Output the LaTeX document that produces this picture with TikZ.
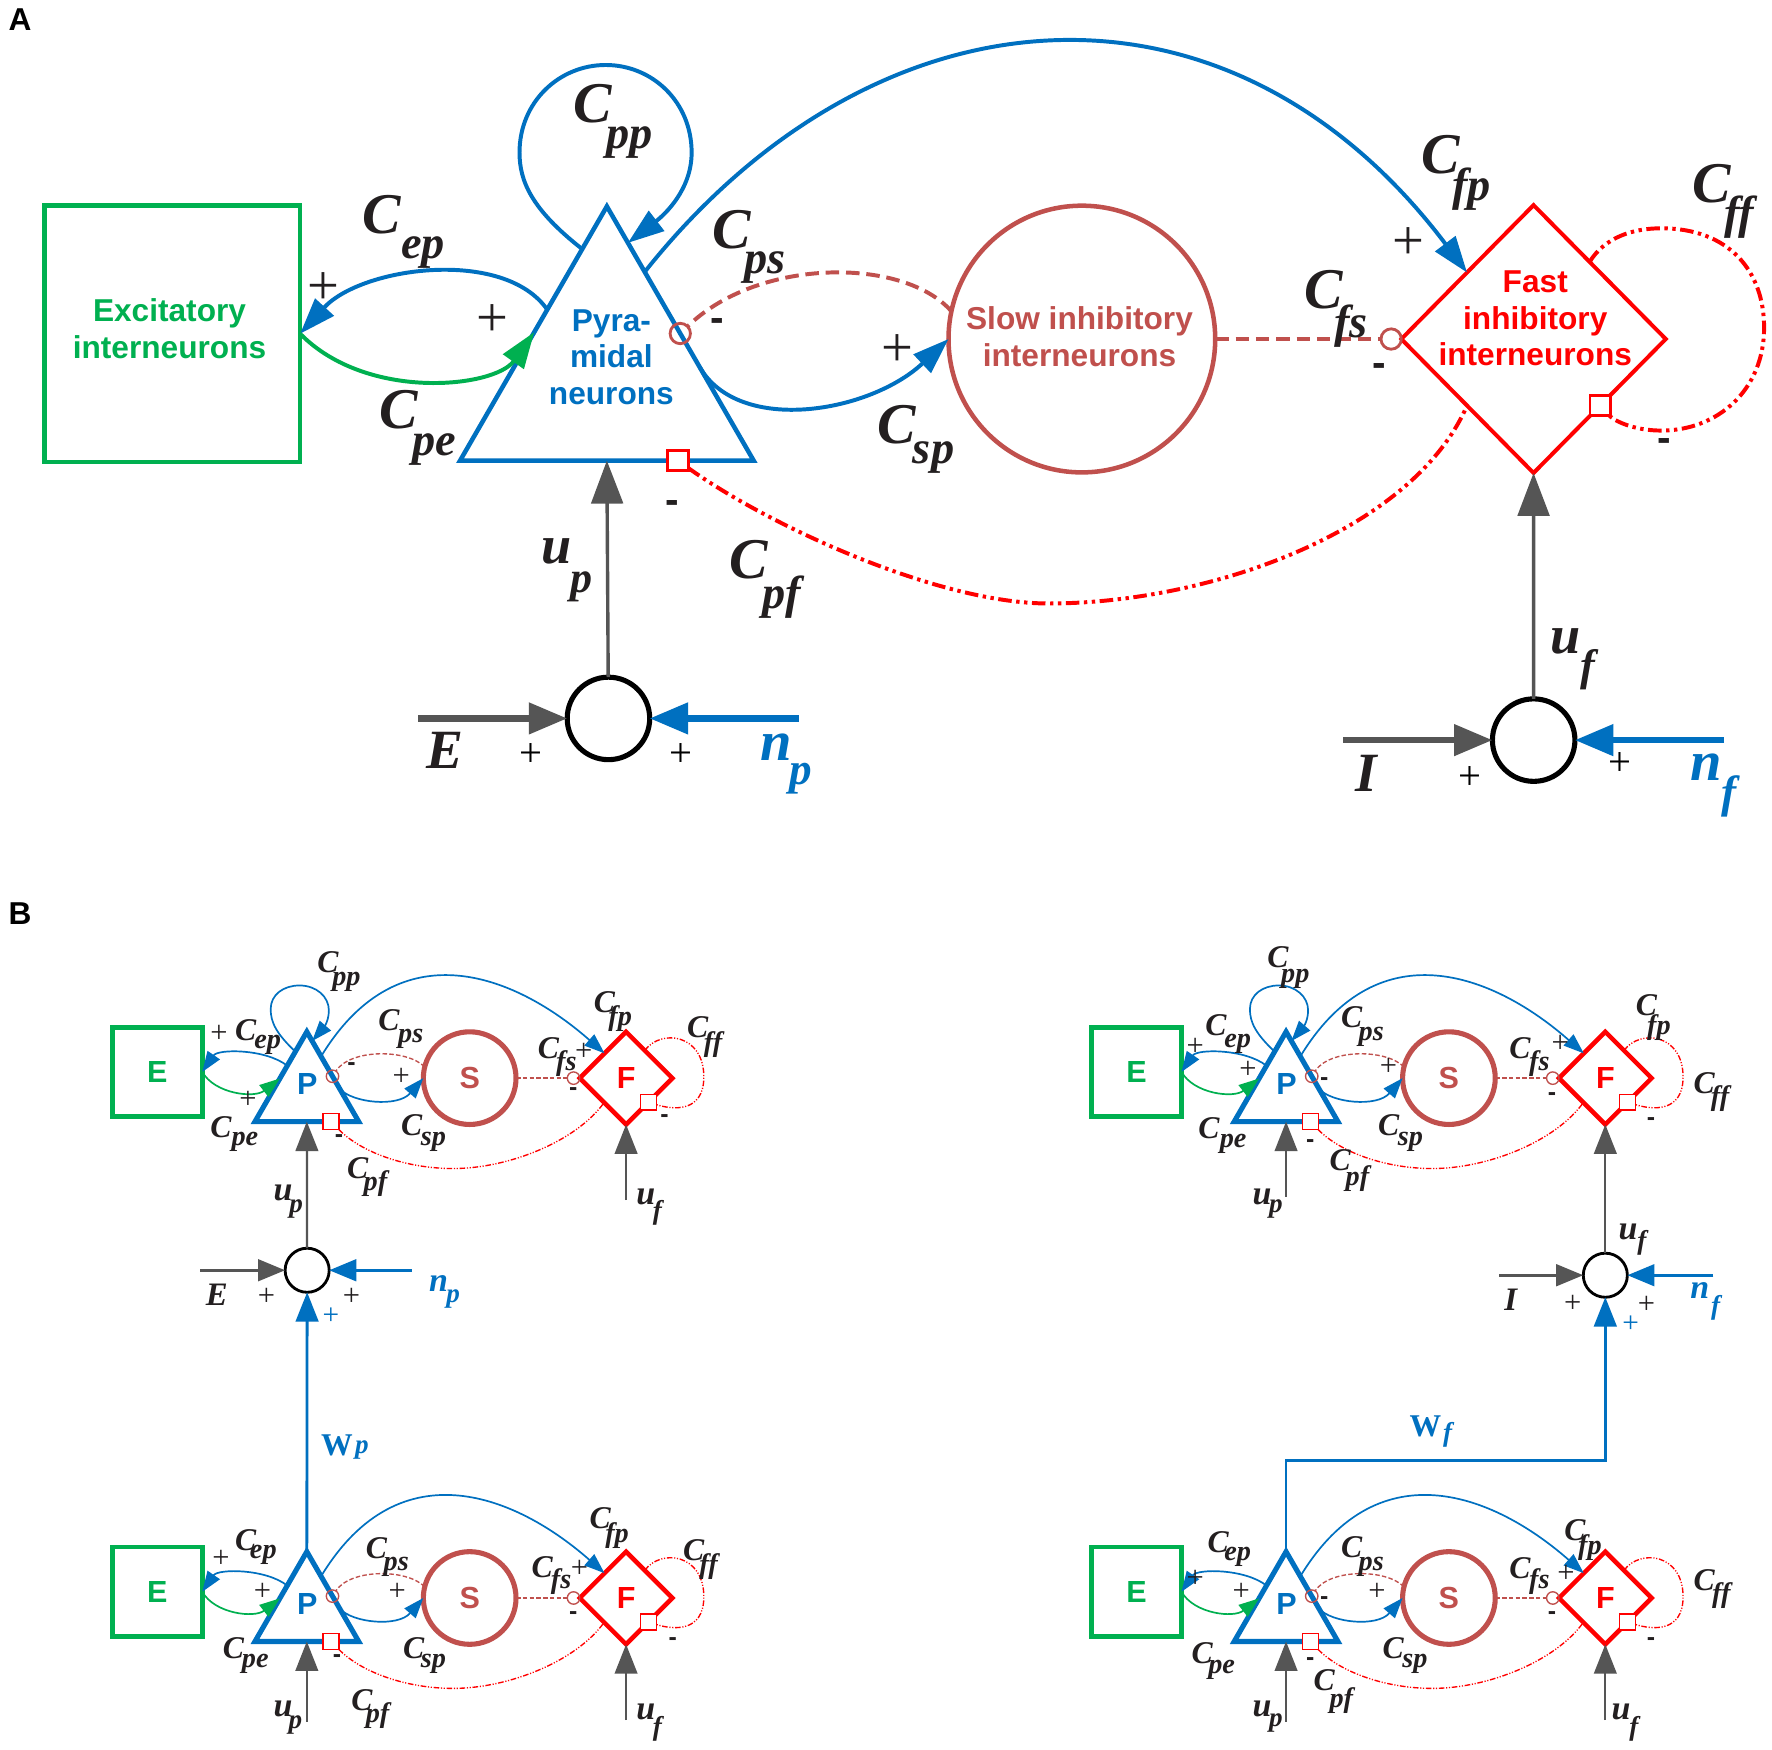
\documentclass[tikz,border=0pt]{standalone}
\usepackage{fontspec}
\setmainfont{Liberation Serif}
\newfontfamily\sfb{Liberation Sans}
\usetikzlibrary{shapes.geometric,arrows.meta}
\definecolor{cblue}{RGB}{0,112,192}
\definecolor{cgreen}{RGB}{0,176,80}
\definecolor{cbrown}{RGB}{192,80,77}
\definecolor{cred}{RGB}{255,0,0}
\definecolor{cgray}{RGB}{85,85,85}
\definecolor{ctext}{RGB}{35,31,32}
\newcommand\fsz[1]{\fontsize{#1}{#1}\selectfont}
\newcounter{lbn}
\newcommand\Tx[4]{\stepcounter{lbn}\node[#1] (lb\arabic{lbn}) at (#2,#3) {#4};}
\newcommand\CLA[5]{\Tx{CA}{#1}{#2}{C}\Tx{SA}{#3}{#4}{#5}}
\newcommand\CLB[5]{\Tx{CB}{#1}{#2}{C}\Tx{SB}{#3}{#4}{#5}}
\newcommand\PL[2]{\Tx{plB}{#1}{#2}{+}}
\newcommand\MN[2]{\Tx{mnB}{#1}{#2}{-}}
\tikzset{
 lab/.style={inner sep=0pt,outer sep=0pt,text=ctext},
 ttl/.style={lab,text=black,font=\sfb\bfseries\fsz{28}},
 CA/.style={lab,font=\bfseries\itshape\fsz{51}},
 SA/.style={lab,font=\bfseries\itshape\fsz{41}},
 CB/.style={lab,font=\bfseries\itshape\fsz{28}},
 SB/.style={lab,font=\bfseries\itshape\fsz{25}},
 plA/.style={lab,font=\fsz{50}},
 plS/.style={lab,text=black,font=\fsz{36}},
 plB/.style={lab,font=\fsz{27}},
 mnA/.style={lab,font=\sfb\bfseries\fsz{36}},
 mnB/.style={lab,font=\sfb\bfseries\fsz{22}},
 uA/.style={lab,font=\bfseries\itshape\fsz{48}},
 usA/.style={lab,font=\bfseries\itshape\fsz{39}},
 uB/.style={lab,font=\bfseries\itshape\fsz{30}},
 usB/.style={lab,font=\bfseries\itshape\fsz{24}},
 vA/.style={lab,font=\bfseries\itshape\fsz{49}},
 vB/.style={lab,font=\bfseries\itshape\fsz{29}},
 nA/.style={lab,text=cblue,font=\bfseries\itshape\fsz{50}},
 nsA/.style={lab,text=cblue,font=\bfseries\itshape\fsz{40}},
 nB/.style={lab,text=cblue,font=\bfseries\itshape\fsz{30}},
 nsB/.style={lab,text=cblue,font=\bfseries\itshape\fsz{24}},
 wB/.style={lab,text=cblue,font=\bfseries\fsz{28}},
 wsB/.style={lab,text=cblue,font=\bfseries\itshape\fsz{24}},
 bplB/.style={lab,text=cblue,font=\fsz{26}},
 txt/.style={inner sep=0pt,align=center,font=\sfb\bfseries\fontsize{28}{32.4}\selectfont},
 shp/.style={inner sep=0pt,outer sep=0pt},
 tipA/.style={-{Triangle[length=32pt,width=22pt]}},
 tipIn/.style={-{Triangle[length=34pt,width=27pt]}},
 tipUp/.style={-{Triangle[length=38pt,width=28pt]}},
 tipB/.style={-{Triangle[length=18pt,width=13pt]}},
 tipInB/.style={-{Triangle[length=24pt,width=19pt]}},
 tipUpB/.style={-{Triangle[length=26pt,width=20pt]}},
 bA/.style={draw=cblue,line width=3.5pt},
 gA/.style={draw=cgreen,line width=3.5pt},
 brA/.style={draw=cbrown,line width=3.5pt,dash pattern=on 12pt off 6pt},
 rA/.style={draw=cred,line width=3.5pt,dash pattern=on 12pt off 4pt on 3pt off 4pt on 3pt off 4pt},
 gyA/.style={draw=cgray,line width=3pt},
 gyB/.style={draw=cgray,line width=5.5pt},
 bB/.style={draw=cblue,line width=5.5pt},
 sumA/.style={shp,circle,draw=black,line width=4.5pt,minimum size=73pt},
 mkcA/.style={shp,circle,draw=cbrown,line width=2.5pt,minimum size=18pt},
 mksA/.style={shp,rectangle,draw=cred,fill=white,line width=2.5pt,minimum size=18pt},
 bC/.style={draw=cblue,line width=1.5pt},
 gC/.style={draw=cgreen,line width=1.5pt},
 brC/.style={draw=cbrown,line width=1.2pt,dash pattern=on 4pt off 2pt},
 rC/.style={draw=cred,line width=1.2pt,dash pattern=on 5pt off 1.5pt on 1pt off 1.5pt on 1pt off 1.5pt},
 gyC/.style={draw=cgray,line width=2pt},
 gyD/.style={draw=cgray,line width=3pt},
 bD/.style={draw=cblue,line width=3pt},
 bW/.style={draw=cblue,line width=2.5pt},
 sumB/.style={shp,circle,draw=black,line width=2.5pt,minimum size=39pt},
 mkcB/.style={shp,circle,draw=cbrown,line width=1.2pt,minimum size=11pt},
 mksB/.style={shp,rectangle,draw=cred,fill=white,line width=1.2pt,minimum size=14pt},
 mEbox/.style={shp,rectangle,draw=cgreen,line width=4pt,minimum width=79.6pt,minimum height=79pt,text=cgreen,font=\sfb\bfseries\fsz{27}},
 mPtri/.style={shp,regular polygon,regular polygon sides=3,draw=cblue,line width=4.5pt,minimum size=106pt},
 mScirc/.style={shp,circle,draw=cbrown,line width=4.5pt,minimum size=82pt,text=cbrown,font=\sfb\bfseries\fsz{27}},
 mFdia/.style={shp,diamond,draw=cred,line width=4pt,minimum width=82pt,minimum height=82pt},
 mlet/.style={inner sep=0pt,font=\sfb\bfseries\fsz{27}}
}
\newcommand\mininet[4]{%
\begin{scope}[shift={(#2,#3)}]
\node[mEbox] (#1E) at (139.2,948.5) {E};
\node[mPtri] (#1P) at (271.5,966) {};
\node[mlet,text=cblue] (#1Pt) at (272,959) {P};
\node[mScirc] (#1S) at (415.6,954) {S};
\node[mFdia] (#1F) at (554,954) {};
\node[mlet,text=cred] (#1Ft) at (554,954) {F};
\node[mkcB] (#1c1) at (#1P.31) {};
\node[mkcB] (#1c2) at (507.5,954) {};
\node[mksB] (#1q1) at (#1P.-51.6) {};
\node[mksB] (#1q2) at (#1F.-47) {};
\draw[bC,tipB] (#1P.127) .. controls (235,928) and (193,928) .. (#1E.east);
\draw[gC,tipB] (#1E.east) .. controls (190,968) and (225,972) .. (#1P.154.6);
\draw[brC] (#1S.166) .. controls (360,928) and (310,928) .. (#1c1);
\draw[bC,tipB] (#1P.5.6) .. controls (312,976) and (352,980) .. (#1S.west);
\draw[bC,tipB] (#1P.68.5) .. controls (355,818) and (460,866) .. (#1F.131.4);
\draw[brC] (#1S.east) -- (#1c2);
\draw[rC] (#1F.56) .. controls (585,910) and (622.8,915) .. (622.8,952.9) .. controls (622.8,985) and (595,982) .. (#1q2);
\draw[rC] (#1q1) .. controls (320,1020) and (360,1034) .. (400.9,1034) .. controls (450,1034) and (510,1010) .. (#1F.-132);
\ifnum#4=1
\draw[bC,tipB] (#1P.106) .. controls (245,915) and (239.5,905) .. (239.5,893) .. controls (239.5,880) and (251,872) .. (265,872) .. controls (280,872) and (291,882) .. (291,894) .. controls (291,905) and (285,911) .. (#1P.84.6);
\fi
\end{scope}}
\begin{document}
\begin{tikzpicture}[x=1pt,y=-1pt]
\useasboundingbox (0,0) rectangle (1568,1548);
\fill[white] (0,0) rectangle (1568,1548);
\Tx{ttl}{17.8}{17.7}{A}
\Tx{ttl}{17.8}{808}{B}
% ---------------- panel A shapes
\node[shp,rectangle,draw=cgreen,line width=4pt,minimum width=226pt,minimum height=226.6pt] (E) at (152.6,295.3) {};
\node[txt,text=cgreen] (Et) at (150,290.6) {Excitatory\\interneurons};
\node[shp,regular polygon,regular polygon sides=3,draw=cblue,line width=4pt,minimum size=300pt] (P) at (537,332.6) {};
\node[txt,text=cblue] (Pt) at (541,316) {Pyra-\\midal\\neurons};
\node[shp,circle,draw=cbrown,line width=4pt,minimum size=236pt] (S) at (957.3,300) {};
\node[txt,text=cbrown] (St) at (955.2,298) {Slow inhibitory\\interneurons};
\node[shp,diamond,draw=cred,line width=3.5pt,minimum width=234pt,minimum height=237pt] (F) at (1357,300) {};
\node[txt,text=cred] (Ft) at (1358.5,281.7) {Fast\\inhibitory\\interneurons};
\node[mkcA] (Amc1) at (P.30.1) {};
\node[mkcA] (Amc2) at (1231,300) {};
\node[mksA] (Ams1) at (P.-50.2) {};
\node[mksA] (Ams2) at (F.-45.6) {};
% connectors A
\draw[bA,tipA] (P.101) .. controls (470,185) and (459.7,160) .. (459.7,135) .. controls (459.7,90) and (495,57.5) .. (536,57.5) .. controls (577,57.5) and (612,90) .. (612,135) .. controls (612,168) and (588,190) .. (P.81);
\draw[bA,tipA] (P.132.4) .. controls (446,219) and (320,236) .. (E.east);
\draw[gA,tipA] (E.east) .. controls (324.7,355.5) and (438,343) .. (P.149.1);
\draw[bA,tipA] (P.5.8) .. controls (655,385) and (770,365) .. (S.west);
\draw[brA] (S.168.7) .. controls (800,227.5) and (671.5,227.5) .. (Amc1);
\draw[brA] (S.east) -- (Amc2);
\draw[bA,tipA] (P.70.4) .. controls (775,-17) and (1086,-40) .. (F.135.9);
\draw[rA] (Ams1) .. controls (680,465) and (830,534) .. (927.7,534) .. controls (1070,534) and (1250,470) .. (F.-135);
\draw[rA] (F.54.2) .. controls (1420,210) and (1445,202) .. (1470,202) .. controls (1530,202) and (1561,240) .. (1561,290) .. controls (1561,345) and (1520,381) .. (1470,381) .. controls (1445,381) and (1428,372) .. (Ams2);
% inputs A
\node[sumA] (sP) at (538.4,635.7) {};
\node[sumA] (sF) at (1357.1,654.9) {};
\coordinate (inE) at (369.9,635.7);
\coordinate (inN) at (707,635.7);
\coordinate (inI) at (1188.6,654.9);
\coordinate (inNf) at (1525.6,654.9);
\draw[gyA,tipUp] (sP) -- (P.south);
\draw[gyB,tipIn] (inE) -- (sP);
\draw[bB,tipIn] (inN) -- (sP);
\draw[gyA,tipUp] (sF) -- (F.south);
\draw[gyB,tipIn] (inI) -- (sF);
\draw[bB,tipIn] (inNf) -- (sF);
% labels A
\CLA{524.3}{91.5}{557.3}{126}{pp}
\CLA{337.8}{190.3}{374.4}{223.5}{ep}
\CLA{353}{362.9}{384.5}{397.5}{pe}
\CLA{647.7}{203.6}{676.6}{236.5}{ps}
\CLA{793.8}{376.1}{826.1}{405}{sp}
\CLA{1275.2}{137.2}{1302.2}{167.5}{fp}
\CLA{1514.6}{162.3}{1539}{192.5}{ff}
\CLA{1171.1}{256.7}{1195.5}{288.5}{fs}
\CLA{662.8}{495.6}{691.9}{528.5}{pf}
\Tx{uA}{492.7}{488.2}{u}\Tx{usA}{514.4}{519.2}{p}
\Tx{uA}{1385.2}{567.9}{u}\Tx{usA}{1405.3}{593}{f}
\Tx{vA}{394}{663.8}{E}
\Tx{nA}{687}{660.8}{n}\Tx{nsA}{708.6}{688.8}{p}
\Tx{vA}{1208.6}{684.4}{I}
\Tx{nA}{1509.6}{678.5}{n}\Tx{nsA}{1529.7}{705}{f}
\Tx{plA}{286}{255}{+}
\Tx{plA}{435.9}{283.2}{+}
\Tx{plA}{793.8}{309.8}{+}
\Tx{plA}{1246.6}{215.4}{+}
\Tx{mnA}{635}{287.6}{-}
\Tx{mnA}{1220.6}{327.5}{-}
\Tx{mnA}{1473}{393.8}{-}
\Tx{mnA}{594.6}{448.4}{-}
\Tx{plS}{470.2}{668.2}{+}
\Tx{plS}{602.6}{668.2}{+}
\Tx{plS}{1301}{688.8}{+}
\Tx{plS}{1433.3}{675.6}{+}
% ---------------- panel B
\mininet{TL}{0}{0}{1}
\mininet{TR}{866.5}{0}{1}
\mininet{BL}{0}{460}{0}
\mininet{BR}{866.5}{460}{0}
% TL inputs
\node[sumB] (TLsum) at (271.8,1124) {};
\coordinate (TLinE) at (177.2,1124);
\coordinate (TLinN) at (364.2,1124);
\coordinate (TLuf) at (554,1062);
\draw[gyC,tipUpB] (TLsum) -- (TLP.south);
\draw[gyD,tipInB] (TLinE) -- (TLsum);
\draw[bD,tipInB] (TLinN) -- (TLsum);
\draw[gyC,tipUpB] (TLuf) -- (TLF.south);
% TR inputs
\node[sumB] (TRsum) at (1420.5,1128.4) {};
\coordinate (TRinI) at (1326.5,1128.4);
\coordinate (TRinN) at (1516,1128.4);
\coordinate (TRup) at (1138,1059);
\draw[gyC,tipUpB] (TRsum) -- (TRF.south);
\draw[gyD,tipInB] (TRinI) -- (TRsum);
\draw[bD,tipInB] (TRinN) -- (TRsum);
\draw[gyC,tipUpB] (TRup) -- (TRP.south);
% BL inputs
\coordinate (BLup) at (271.5,1523.6);
\coordinate (BLuf) at (554,1522);
\draw[gyC,tipUpB] (BLup) -- (BLP.south);
\draw[gyC,tipUpB] (BLuf) -- (BLF.south);
\draw[bW,tipUpB] (BLP.north) -- (TLsum);
% BR inputs
\coordinate (BRup) at (1138,1523.6);
\coordinate (BRuf) at (1420.5,1522);
\draw[gyC,tipUpB] (BRup) -- (BRP.south);
\draw[gyC,tipUpB] (BRuf) -- (BRF.south);
\coordinate (Wk) at (1138,1292);
\draw[bW,tipUpB] (BRP.north) -- (Wk) -| (TRsum);
% TL labels
\CLB{290.1}{851}{306.5}{868.8}{pp}
\CLB{217.5}{911.6}{236.9}{924.8}{ep}
\CLB{195.5}{997}{216.7}{1010.4}{pe}
\CLB{344.1}{902.7}{363.4}{918.9}{ps}
\CLB{364.2}{995.6}{383.6}{1010.4}{sp}
\CLB{534.8}{886.5}{548.8}{901.5}{fp}
\CLB{485.3}{927.8}{501.1}{941.5}{fs}
\CLB{617.3}{908.6}{631}{924}{ff}
\CLB{316.5}{1034}{332.2}{1047.3}{pf}
\PL{193.7}{914.5}\PL{219.4}{973.5}\MN{311}{944}\PL{355}{952.9}\PL{516.5}{930.7}\MN{507.3}{966.1}\MN{588}{989.7}\MN{300}{1007.4}
\Tx{uB}{250.5}{1056}{u}\Tx{usB}{262}{1070}{p}
\Tx{uB}{571.5}{1059}{u}\Tx{usB}{581.7}{1073.3}{f}
\Tx{vB}{191.8}{1146}{E}
\PL{235.9}{1147.6}\PL{311}{1147.6}
\Tx{nB}{388}{1135.8}{n}\Tx{nsB}{401}{1149}{p}
\Tx{bplB}{292.7}{1165}{+}
\Tx{wB}{298.2}{1278.7}{W}\Tx{wsB}{320.2}{1283.1}{p}
% TR labels
\CLB{1130.9}{846.7}{1146.2}{865.8}{pp}
\CLB{1075.9}{907.1}{1095.2}{923.4}{ep}
\CLB{1069.8}{998.6}{1091.2}{1011.9}{pe}
\CLB{1196.1}{899.8}{1213.4}{917.5}{ps}
\CLB{1228.7}{995.6}{1248}{1010.4}{sp}
\CLB{1456.9}{889.4}{1468}{909.5}{fp}
\CLB{1344.9}{927.8}{1362.1}{941}{fs}
\CLB{1507.9}{958.8}{1522.1}{972.5}{ff}
\CLB{1185.9}{1026.6}{1201.2}{1042.8}{pf}
\PL{1057.6}{926.3}\PL{1104.4}{947}\MN{1171.7}{957.3}\PL{1228.7}{944}\PL{1380.7}{923.4}\MN{1373.4}{970.6}\MN{1461}{992.7}\MN{1159.4}{1011.9}
\Tx{uB}{1116.7}{1059}{u}\Tx{usB}{1128.9}{1069.4}{p}
\Tx{uB}{1440.6}{1090}{u}\Tx{usB}{1452.9}{1100}{f}
\Tx{vB}{1336.7}{1150.5}{I}
\PL{1391.7}{1153.5}\PL{1456.9}{1155}
\Tx{nB}{1504}{1142}{n}\Tx{nsB}{1518}{1157}{f}
\Tx{bplB}{1443}{1172}{+}
\Tx{wB}{1261.3}{1262.5}{W}\Tx{wsB}{1281}{1270}{f}
% BL labels
\CLB{217.5}{1362.8}{233}{1376}{ep}
\CLB{206.5}{1458.7}{225.9}{1472}{pe}
\CLB{333.1}{1370.2}{350.6}{1386.4}{ps}
\CLB{366.1}{1458.7}{383.6}{1472}{sp}
\CLB{531.1}{1343.6}{546}{1358.5}{fp}
\CLB{479.8}{1386.4}{496.5}{1399.5}{fs}
\CLB{613.7}{1371.7}{627}{1386}{ff}
\CLB{320.2}{1504.4}{334.1}{1517.7}{pf}
\PL{195.5}{1379}\PL{232.2}{1408.5}\PL{351.4}{1408.5}\PL{512.8}{1387.9}\MN{507.3}{1429.2}\MN{595.3}{1452.8}\MN{298.2}{1467.5}
\Tx{uB}{250.5}{1511.8}{u}\Tx{usB}{261.5}{1526.5}{p}
\Tx{uB}{571.5}{1514.7}{u}\Tx{usB}{581.7}{1530}{f}
% BR labels
\CLB{1077.9}{1364.3}{1095.2}{1377.5}{ep}
\CLB{1063.7}{1463.1}{1081}{1477.9}{pe}
\CLB{1196.1}{1368.7}{1213.4}{1386.4}{ps}
\CLB{1232.8}{1458.7}{1252.1}{1472}{sp}
\CLB{1393.7}{1354}{1406.9}{1369.5}{fp}
\CLB{1344.9}{1387.9}{1362.1}{1399.7}{fs}
\CLB{1507.9}{1398.2}{1523.1}{1411.5}{ff}
\CLB{1171.7}{1486.7}{1186.9}{1504.4}{pf}
\PL{1057.6}{1396.7}\PL{1098.3}{1408.5}\MN{1171.7}{1415.9}\PL{1218.5}{1408.5}\PL{1385.6}{1392.3}\MN{1373.4}{1429.2}\MN{1461}{1452.8}\MN{1159.4}{1470.5}
\Tx{uB}{1116.7}{1511.8}{u}\Tx{usB}{1128.9}{1525}{p}
\Tx{uB}{1434.5}{1514.7}{u}\Tx{usB}{1445.7}{1530}{f}
\end{tikzpicture}
\end{document}
